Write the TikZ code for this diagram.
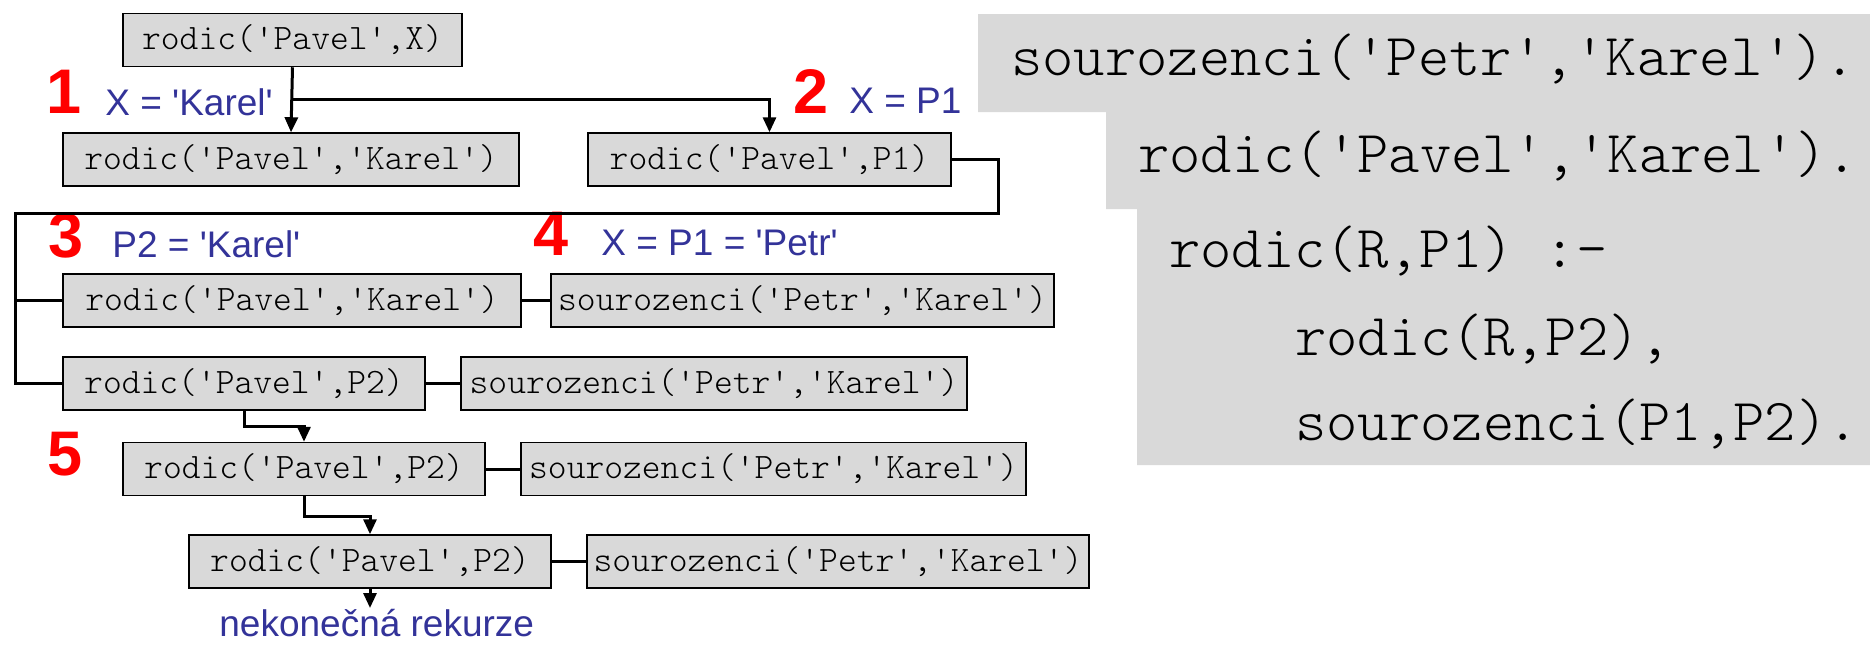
\documentclass[tikz,border=0pt]{standalone}
\usepackage{fontspec}
\setmainfont{Liberation Sans}[Ligatures=TeXOff]
\newfontfamily\codefont{Latin Modern Mono Light}[Ligatures=TeXOff]
\usetikzlibrary{arrows.meta}
\definecolor{boxgray}{HTML}{D9D9D9}
\definecolor{labelblue}{HTML}{333399}
\definecolor{stepred}{HTML}{FF0000}

\begin{document}
\begin{tikzpicture}[x=0.5pt,y=-0.5pt,
  goal/.style={draw=black, line width=0.75pt, fill=boxgray, inner sep=0pt,
    minimum height=26.5pt, font=\codefont\fontsize{17.9pt}{20pt}\selectfont},
  conn/.style={line width=1.5pt},
  arr/.style={conn, -{Triangle[width=6.5pt,length=7.5pt]}},
  num/.style={text=stepred, font=\bfseries\fontsize{31.5pt}{36pt}\selectfont,
    inner sep=0pt, anchor=base},
  bind/.style={text=labelblue, font=\fontsize{18.5pt}{22pt}\selectfont,
    inner sep=0pt, anchor=base west},
  code/.style={font=\codefont\fontsize{29.8pt}{34pt}\selectfont,
    inner sep=0pt, anchor=base west}
]
\useasboundingbox (0,0) rectangle (1870,645);
\fill[white] (0,0) rectangle (1870,645);

% program listing on a stepped grey panel
\fill[boxgray] (978,14) -- (1870,14) -- (1870,465) -- (1137,465) -- (1137,209)
  -- (1106,209) -- (1106,112) -- (978,112) -- cycle;
\node[code] (p1) at (1011,75)  {sourozenci('Petr','Karel').};
\node[code] (p2) at (1138,172) {rodic('Pavel','Karel').};
\node[code] (p3) at (1169,267) {rodic(R,P1) :-};
\node[code] (p4) at (1295,355) {rodic(R,P2),};
\node[code] (p5) at (1295,440) {sourozenci(P1,P2).};

% goals of the search tree
\node[goal, minimum width=169.5pt] (A) at (292.5,40)  {rodic('Pavel',X)};
\node[goal, minimum width=228pt]   (B) at (291,159.5) {rodic('Pavel','Karel')};
\node[goal, minimum width=181.5pt] (C) at (769.5,159.5) {rodic('Pavel',P1)};
\node[goal, minimum width=229pt]   (D) at (292,300.5) {rodic('Pavel','Karel')};
\node[goal, minimum width=251.5pt] (E) at (802.5,300.5) {sourozenci('Petr','Karel')};
\node[goal, minimum width=181pt]   (F) at (244,383.5) {rodic('Pavel',P2)};
\node[goal, minimum width=253pt]   (G) at (714,383.5) {sourozenci('Petr','Karel')};
\node[goal, minimum width=181pt]   (H) at (304,469)   {rodic('Pavel',P2)};
\node[goal, minimum width=252.5pt] (I) at (773.5,469) {sourozenci('Petr','Karel')};
\node[goal, minimum width=181pt]   (J) at (370,561.5) {rodic('Pavel',P2)};
\node[goal, minimum width=251pt]   (K) at (838,561.5) {sourozenci('Petr','Karel')};

% step numbers and bindings
\node[num] (n1) at (64,113)  {1};
\node[num] (n2) at (811,113) {2};
\node[num] (n3) at (66,257)  {3};
\node[num] (n4) at (551,255) {4};
\node[num] (n5) at (65,475)  {5};
\node[bind] (b1) at (105,115) {X = 'Karel'};
\node[bind] (b2) at (849,113) {X = P1};
\node[bind] (b3) at (112,257) {P2 = 'Karel'};
\node[bind] (b4) at (601,255) {X = P1 = 'Petr'};
\node[bind, text depth=0pt] (N) at (219,636) {nekonečná rekurze};

% connectors
\coordinate (fork) at (292.5,99);
\draw[arr] (A.south) -- (B.north);
\draw[arr] (fork) -| (C.north);

\coordinate (c1) at (998,213);
\coordinate (c2) at (15,213);
\draw[conn] (C.east) -| (c1) -- (c2) |- (F.west);
\draw[conn] (c2 |- D.west) -- (D.west);

\draw[conn] (D.east) -- (E.west);
\draw[conn] (F.east) -- (G.west);
\draw[conn] (H.east) -- (I.west);
\draw[conn] (J.east) -- (K.west);

\draw[arr] (F.south) -- ++(0,16) -| (H.north);
\draw[arr] (H.south) -- ++(0,20) -| (J.north);
\coordinate (tail) at (370,608);
\draw[arr] (J.south) -- (tail);
\end{tikzpicture}
\end{document}
